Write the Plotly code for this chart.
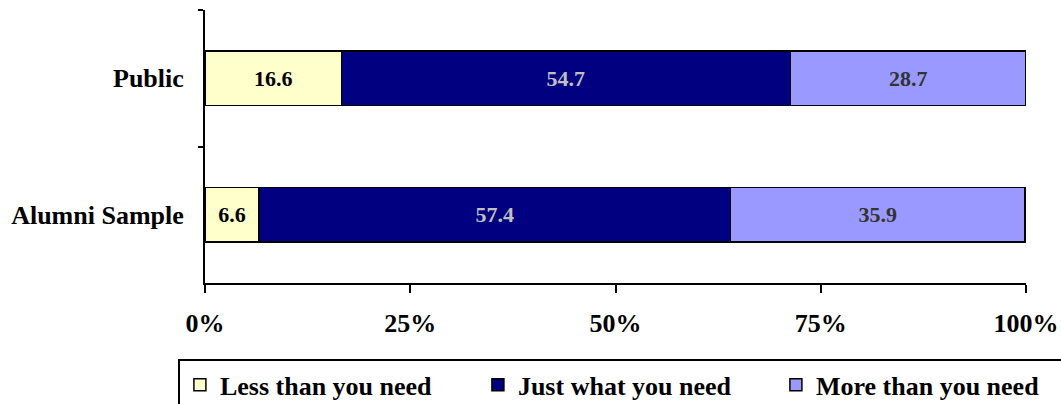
import plotly.graph_objects as go

categories = ["Public", "Alumni Sample"]
series_names = ["Less than you need", "Just what you need", "More than you need"]
less_vals = [16.6, 6.6]
just_vals = [54.7, 57.4]
more_vals = [28.7, 35.9]
tick_vals = [0, 25, 50, 75, 100]
tick_text = ["0%", "25%", "50%", "75%", "100%"]

fills = ["#FFFFCC", "#000080", "#9999FF"]
label_colors = ["#000000", "#C0C0C0", "#333333"]
FONT = "Liberation Serif, Times New Roman, serif"

fig = go.Figure()
for name, vals, fc, lc in zip(series_names, [less_vals, just_vals, more_vals], fills, label_colors):
    fig.add_trace(go.Bar(
        y=categories, x=vals, name=name, orientation="h",
        marker=dict(color=fc, line=dict(color="#000000", width=1.5)),
        text=[f"{v:.1f}" for v in vals], textposition="inside",
        insidetextanchor="middle", textangle=0, constraintext="none",
        textfont=dict(family=FONT, size=22, color=lc, weight="bold"),
        width=0.4, hoverinfo="skip",
    ))

fig.update_layout(
    barmode="stack",
    width=1061, height=404,
    margin=dict(l=205, r=35, t=10, b=121, autoexpand=False),
    plot_bgcolor="#FFFFFF", paper_bgcolor="#FFFFFF",
    font=dict(family=FONT, size=26, color="#000000", weight="bold"),
    showlegend=True,
    legend=dict(
        orientation="h", x=-0.033, xanchor="left", y=-0.28, yanchor="top",
        bordercolor="#000000", borderwidth=2, bgcolor="#FFFFFF",
        font=dict(family=FONT, size=26, color="#000000", weight="bold"),
        entrywidth=253, entrywidthmode="pixels", traceorder="normal",
        itemwidth=30,
    ),
    xaxis=dict(
        range=[0, 100], tickvals=tick_vals, ticktext=tick_text,
        showgrid=False, zeroline=False, showline=True, linecolor="#000000", linewidth=2,
        ticks="outside", ticklen=8, tickwidth=2, tickcolor="#000000",
        ticklabelstandoff=8,
        tickfont=dict(family=FONT, size=26, color="#000000", weight="bold"),
        fixedrange=True,
    ),
    yaxis=dict(
        type="category", autorange="reversed",
        showgrid=False, zeroline=False, showline=True, linecolor="#000000", linewidth=2,
        ticks="outside", tickson="boundaries", ticklen=5, tickwidth=2, tickcolor="#000000",
        ticklabelstandoff=14,
        tickfont=dict(family=FONT, size=26, color="#000000", weight="bold"),
        fixedrange=True,
    ),
)

fig.write_html("out.html")
